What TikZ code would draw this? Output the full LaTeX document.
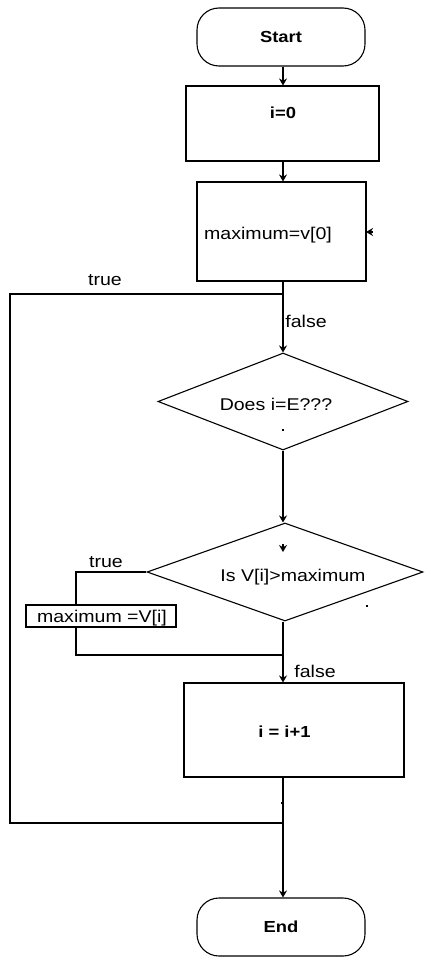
\documentclass[tikz,border=0pt]{standalone}
\usepackage{fontspec}
\setmainfont{Liberation Sans}[FakeStretch=1.15]
\usetikzlibrary{shapes.geometric,arrows.meta}
\begin{document}
\begin{tikzpicture}[x=1pt,y=-1pt,
  every node/.style={font=\fontsize{17}{19}\selectfont},
  term/.style={draw,line width=1.1pt,rounded corners=22pt,minimum width=168pt,minimum height=58pt,inner sep=0pt,font=\fontsize{16}{19}\selectfont\bfseries},
  proc/.style={draw,line width=1.1pt,inner sep=0pt},
  dec/.style={draw,line width=1.1pt,diamond,inner sep=0pt},
  txt/.style={inner sep=0pt,anchor=base},
  btxt/.style={txt,font=\fontsize{16}{19}\selectfont\bfseries},
  lbl/.style={inner sep=0pt,anchor=base},
  line/.style={line width=1.1pt},
  arr/.style={line width=1.1pt,-{Stealth[length=7pt,width=8pt]}},
  speck/.style={fill=black,inner sep=0pt,minimum size=1.6pt}]
\useasboundingbox (0,0) rectangle (424,958);
\coordinate (cx) at (283,0);
% nodes
\node[term] (start) at (281,37) {Start};
\node[proc,minimum width=193pt,minimum height=75pt] (init) at (282.5,123.5) {};
\node[btxt] (initT) at (283,118) {i=0};
\node[proc,minimum width=169pt,minimum height=99pt] (max0) at (281.5,231.5) {};
\node[txt,anchor=base west] (max0T) at (204,239) {maximum=v[0]};
\node[dec,minimum width=250pt,minimum height=97pt] (d1) at (283,401.5) {};
\node[txt] (d1T) at (276,410) {Does i=E???};
\node[dec,minimum width=276pt,minimum height=98pt] (d2) at (285,572) {};
\node[txt] (d2T) at (293,581) {Is V[i]>maximum};
\node[proc,minimum width=150pt,minimum height=22pt] (setmax) at (101,616) {};
\node[txt] (setmaxT) at (102,622) {maximum =V[i]};
\node[proc,minimum width=220pt,minimum height=94pt] (inc) at (294,730) {};
\node[btxt] (incT) at (284.5,737) {i = i+1};
\node[term] (end) at (281,927) {End};
% helper coordinates
\coordinate (tl) at (10,294);
\coordinate (bl) at (10,823);
\coordinate (sx) at (76,0);
\coordinate (jn) at (0,655);
% connectors
\draw[arr] (start.south -| cx) -- (init.north -| cx);
\draw[arr] (init.south -| cx) -- (max0.north -| cx);
\draw[arr] (max0.south -| cx) -- (d1.north -| cx);
\draw[line] (cx |- tl) -- (tl) -- (bl) -- (cx |- bl);
\draw[arr] (d1.south -| cx) -- (d2.north -| cx);
\draw[line] (d2.west) -- (d2.west -| sx) -- (setmax.north -| sx);
\draw[line] (setmax.south -| sx) -- (jn -| sx) -- (jn -| cx);
\draw[arr] (d2.south -| cx) -- (inc.north -| cx);
\draw[arr] (inc.south -| cx) -- (end.north -| cx);
% labels
\node[lbl] (t1) at (105,285) {true};
\node[lbl] (f1) at (306,327) {false};
\node[lbl] (t2) at (106,567) {true};
\node[lbl] (f2) at (315,677) {false};
% stray marks
\coordinate (m1a) at (373,232);
\coordinate (m1b) at (366,232);
\draw[arr] (m1a) -- (m1b);
\coordinate (m2a) at (283,544);
\coordinate (m2b) at (283,552);
\draw[arr] (m2a) -- (m2b);
\node[speck] (s1) at (283,430) {};
\node[speck] (s2) at (367,606) {};
\node[speck,minimum width=3pt] (s3) at (282,803) {};
\end{tikzpicture}
\end{document}
